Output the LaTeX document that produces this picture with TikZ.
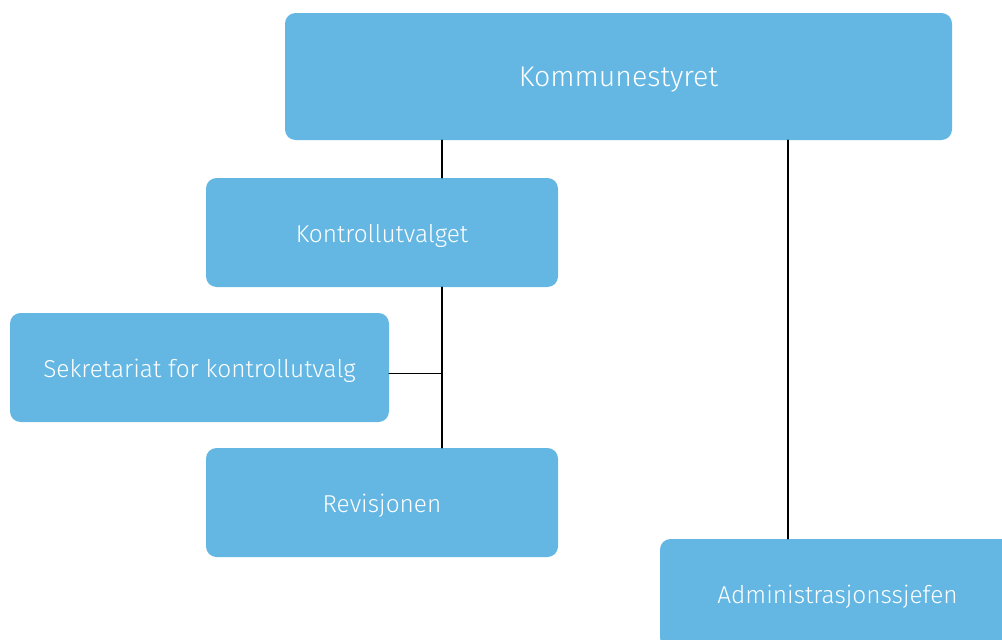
\documentclass[tikz,border=0pt]{standalone}
\usepackage{fontspec}
\setmainfont{Fira Sans Light}[BoldFont=Fira Sans]
\definecolor{boksblaa}{HTML}{64B7E3}
\begin{document}
\begin{tikzpicture}[font=\fontsize{13.9}{17}\selectfont,line cap=round,line join=round,
		boks/.style={fill=boksblaa,text=white,rounded corners=6pt,inner sep=0pt,minimum height=2.18cm,text height=2.1ex,text depth=0pt},
		linje/.style={line width=1pt,black}]
			\useasboundingbox (0,0) rectangle (20.04,-12.78);
			% boksene
			\node[boks,minimum width=13.34cm,minimum height=2.54cm,font=\fontsize{16.2}{20}\selectfont] (kommune) at (12.37,-1.53) {Kommunestyret};
			\node[boks,minimum width=7.04cm] (kontroll) at (7.64,-4.65) {Kontrollutvalget};
			\node[boks,minimum width=7.58cm] (sekretariat) at (3.99,-7.35) {Sekretariat for kontrollutvalg};
			\node[boks,minimum width=7.04cm] (revisjon) at (7.64,-10.05) {Revisjonen};
			\node[boks,minimum width=7.1cm] (admin) at (16.75,-11.87) {Administrasjonssjefen};
			% linjene
			\coordinate (knute) at (8.84,-7.47);
			\coordinate (adm) at (15.76,-8);
			\draw[linje] (kommune.south -| knute)--(kontroll.north -| knute);
			\draw[linje] (kontroll.south -| knute)--(revisjon.north -| knute);
			\draw[linje] (sekretariat.east |- knute)--(knute);
			\draw[linje] (kommune.south -| adm)--(admin.north -| adm);
		\end{tikzpicture}
\end{document}
